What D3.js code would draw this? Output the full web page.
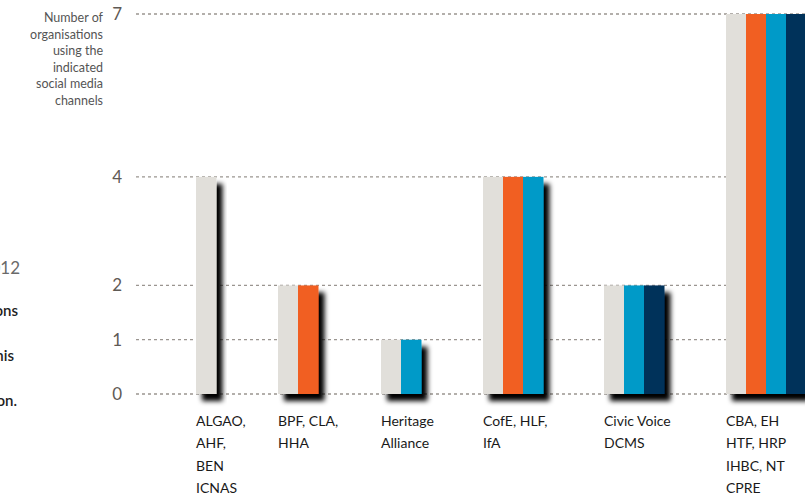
<!DOCTYPE html>
<html><head><meta charset="utf-8">
<script src="https://cdn.jsdelivr.net/npm/d3@7"></script>
<style>
html,body{margin:0;padding:0;background:#fff;overflow:hidden;}
svg{display:block;}
text{font-family:"Lato","Open Sans",sans-serif;}
</style></head>
<body>
<svg id="c" width="805" height="493"></svg>
<script>
// ---- data ----
const categories = [
  ["ALGAO,","AHF,","BEN","ICNAS"],
  ["BPF, CLA,","HHA"],
  ["Heritage","Alliance"],
  ["CofE, HLF,","IfA"],
  ["Civic Voice","DCMS"],
  ["CBA, EH","HTF, HRP","IHBC, NT","CPRE"]
];
const seriesNames = ["Channel A","Channel B","Channel C","Channel D"];
const seriesA = [4,2,1,4,2,7];
const seriesB = [0,2,0,4,0,7];
const seriesC = [0,0,1,4,2,7];
const seriesD = [0,0,0,0,2,7];
const yTicks = [0,1,2,4,7];
const axisTitle = ["Number of","organisations","using the","indicated","social media","channels"];
const sideText = ["2012","ions","his","tion."];

const colors = ["#e1dfda","#f15f22","#009ac8","#00315a"];
const allSeries = [seriesA,seriesB,seriesC,seriesD];

const svg = d3.select("#c");
const defs = svg.append("defs");
const f = defs.append("filter").attr("id","sh").attr("x","-50%").attr("y","-20%").attr("width","200%").attr("height","150%");
f.append("feDropShadow").attr("dx",6).attr("dy",7).attr("stdDeviation",2.6).attr("flood-color","#000").attr("flood-opacity",1);

const y = d3.scaleLinear().domain([0,7]).range([394,14]);
const catIdx = categories.map((c,i)=>i);
const xGroup = d3.scaleOrdinal().domain(catIdx).range([196,278,381,483,604,726]);
const barW = 20;

// gridlines
svg.append("g").selectAll("line").data(yTicks).join("line")
  .attr("x1",136).attr("x2",805)
  .attr("y1",d=>y(d)).attr("y2",d=>y(d))
  .attr("stroke","#9a9590").attr("stroke-width",1.3).attr("stroke-dasharray","3,3");

// tick labels
svg.append("g").selectAll("text").data(yTicks).join("text")
  .attr("x",122).attr("y",d=>y(d)+6)
  .attr("text-anchor","end").attr("font-size",17).attr("fill","#5f5a55")
  .text(d=>d);

// axis title
svg.append("g").selectAll("text").data(axisTitle).join("text")
  .attr("x",103).attr("y",(d,i)=>22+i*16.6)
  .attr("text-anchor","end").attr("font-size",12.5).attr("fill","#555")
  .text(d=>d);

// bars
catIdx.forEach(ci=>{
  const vals = allSeries.map((s,si)=>({v:s[ci],si})).filter(d=>d.v>0);
  const g = svg.append("g").attr("filter","url(#sh)");
  g.selectAll("rect").data(vals).join("rect")
    .attr("x",(d,k)=>xGroup(ci)+k*barW)
    .attr("y",d=>y(d.v))
    .attr("width",barW+0.5)
    .attr("height",d=>y(0)-y(d.v))
    .attr("fill",d=>colors[d.si]);
});

// category labels
catIdx.forEach(ci=>{
  svg.append("g").selectAll("text").data(categories[ci]).join("text")
    .attr("x",xGroup(ci)).attr("y",(d,i)=>426+i*22.3)
    .attr("font-size",14).attr("fill","#1a1a1a")
    .text(d=>d);
});

// side text fragments from adjacent page
const sideY = [274,316,361,406], sideX = [20,18,14,17], sideSize = [17,15,15,15];
const sideCol = ["#6a6a6a","#222","#222","#222"], sideW = [400,600,600,600];
sideText.forEach((t,i)=>{
  svg.append("text").attr("x",sideX[i]).attr("y",sideY[i]).attr("text-anchor","end")
    .attr("font-size",sideSize[i]).attr("font-weight",sideW[i]).attr("fill",sideCol[i]).text(t);
});
</script>
</body></html>
